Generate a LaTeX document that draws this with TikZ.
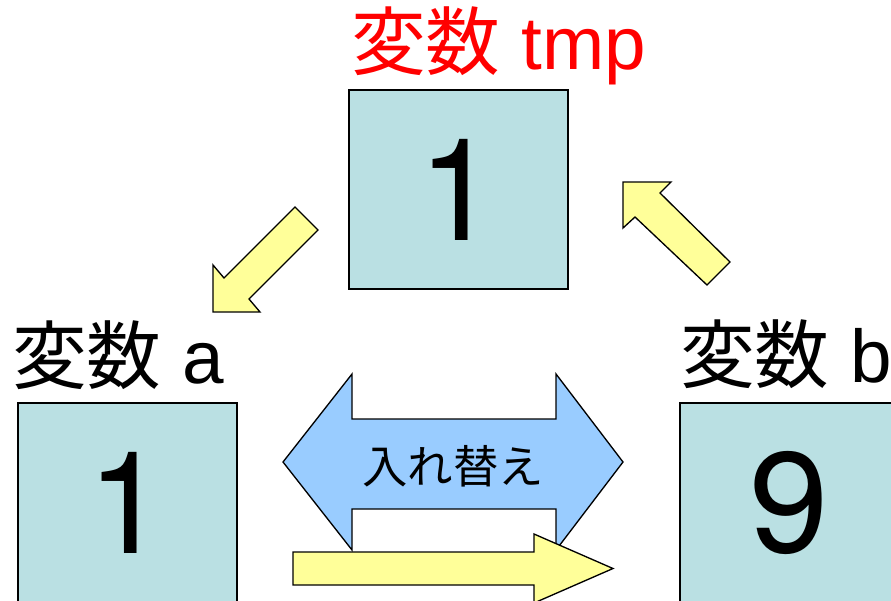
\documentclass[tikz,border=0pt]{standalone}
\usepackage{fontspec}
\setmainfont{Liberation Sans}
\newfontfamily\digitfont{TeX Gyre Heros}
\newfontfamily\cjk{Noto Sans CJK JP}
\definecolor{boxfill}{HTML}{BAE0E3}
\definecolor{bluefill}{HTML}{99CCFF}
\definecolor{yellowfill}{HTML}{FFFF99}
\definecolor{labelred}{HTML}{FF0000}
\tikzset{
  varbox/.style={draw=black, line width=1.2pt, fill=boxfill, rectangle,
    minimum width=164.25pt, minimum height=149.25pt, inner sep=0pt,
    font=\digitfont\fontsize{107}{110}\selectfont},
  varlabel/.style={anchor=base, inner sep=0pt, font=\fontsize{56}{60}\selectfont},
  yellowarrow/.style={draw=black, line width=1pt, fill=yellowfill, line join=miter},
  bluearrow/.style={draw=black, line width=1pt, fill=bluefill, line join=miter},
}
\begin{document}
\begin{tikzpicture}[x=0.75pt, y=-0.75pt]
\clip (0,0) rectangle (891,600);
\fill[white] (0,0) rectangle (891,600);

% variable boxes
\node[varbox] (tmp) at (458.5,189.5) {1};
\node[varbox] (a) at (127.5,502.5) {1};
\node[varbox] (b) at (789.5,502.5) {9};

% labels
\node[varlabel, text=labelred] (ltmp) at (498.5,69) {{\cjk 変数} tmp};
\node[varlabel] (la) at (118,383) {{\cjk 変数} a};
\node[varlabel] (lb) at (786,382) {{\cjk 変数} b};

% blue double arrow
\draw[bluearrow] (283,462) -- (352,374) -- (352,419) -- (556,419) -- (556,374)
  -- (623,462) -- (556,550) -- (556,509) -- (352,509) -- (352,550) -- cycle;
\node[inner sep=0pt, font=\cjk\fontsize{34}{36}\selectfont] (swap) at (453,466) {入れ替え};

% yellow right arrow
\draw[yellowarrow] (293,552) -- (534,552) -- (534,534) -- (613,568.5)
  -- (534,603) -- (534,585) -- (293,585) -- cycle;

% down-left arrow (tmp -> a)
\draw[yellowarrow] (295,207) -- (318,230) -- (249,299) -- (260,312)
  -- (213,312) -- (213,265) -- (224,278) -- cycle;

% up-left arrow (b -> tmp)
\draw[yellowarrow] (623,182) -- (671,182) -- (660,193) -- (730,262)
  -- (707,285) -- (635,217) -- (623,228) -- cycle;
\end{tikzpicture}
\end{document}
